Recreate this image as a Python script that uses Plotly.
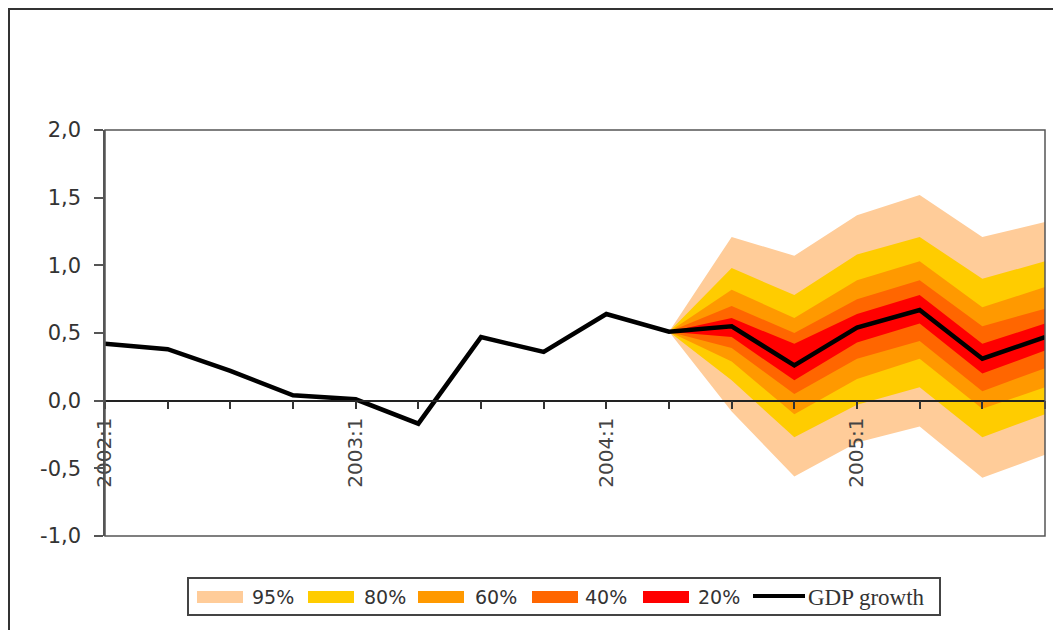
import plotly.graph_objects as go

# quarterly GDP growth, history + fan chart forecast
quarters = ['2002:1', '2002:2', '2002:3', '2002:4',
            '2003:1', '2003:2', '2003:3', '2003:4',
            '2004:1', '2004:2', '2004:3', '2004:4',
            '2005:1', '2005:2', '2005:3', '2005:4']
gdp_growth = [0.42, 0.38, 0.22, 0.04, 0.01, -0.17, 0.47, 0.36,
              0.64, 0.51, 0.55, 0.26, 0.54, 0.67, 0.31, 0.47]
tick_text = ['2002:1', '', '', '', '2003:1', '', '', '',
             '2004:1', '', '', '', '2005:1', '', '', '']
y_ticks = [-1.0, -0.5, 0.0, 0.5, 1.0, 1.5, 2.0]
y_tick_text = ['-1,0', '-0,5', '0,0', '0,5', '1,0', '1,5', '2,0']

fan_quarters = ['2004:2', '2004:3', '2004:4', '2005:1', '2005:2', '2005:3', '2005:4']
band_names = ['95%', '80%', '60%', '40%', '20%']
band_upper = [
    [0.51, 1.21, 1.07, 1.37, 1.52, 1.21, 1.32],
    [0.51, 0.98, 0.78, 1.08, 1.21, 0.90, 1.03],
    [0.51, 0.82, 0.61, 0.89, 1.03, 0.69, 0.84],
    [0.51, 0.70, 0.50, 0.75, 0.89, 0.55, 0.68],
    [0.51, 0.61, 0.42, 0.64, 0.78, 0.42, 0.57],
]
band_lower = [
    [0.51, -0.08, -0.56, -0.31, -0.19, -0.57, -0.40],
    [0.51, 0.15, -0.27, -0.03, 0.10, -0.27, -0.10],
    [0.51, 0.29, -0.10, 0.16, 0.31, -0.06, 0.10],
    [0.51, 0.39, 0.05, 0.31, 0.44, 0.07, 0.24],
    [0.51, 0.47, 0.15, 0.43, 0.57, 0.20, 0.37],
]
band_colors = ['#FFCC99', '#FFCC00', '#FF9900', '#FF6600', '#FF0000']

# page has an 8px body margin, so the figure itself starts at (8, 8)
OFF = 8
W, H = 1061 - OFF, 630 - OFF
L, T = 105 - OFF, 130 - OFF
R, B = W - (1045 - OFF), H - (536 - OFF)
PW, PH = W - L - R, H - T - B


def px_x(px):
    # page pixel -> paper x
    return (px - OFF - L) / PW


def px_y(py):
    # page pixel -> paper y
    return (H - B - (py - OFF)) / PH


fig = go.Figure()

for name, up, lo, col in zip(band_names, band_upper, band_lower, band_colors):
    fig.add_trace(go.Scatter(
        x=fan_quarters + fan_quarters[::-1], y=up + lo[::-1],
        fill='toself', fillcolor=col, mode='lines', line=dict(width=0),
        name=name, showlegend=False, hoverinfo='skip'
    ))

fig.add_trace(go.Scatter(
    x=quarters, y=gdp_growth, mode='lines', name='GDP growth',
    line=dict(color='black', width=4.5), showlegend=False
))

shapes = [
    # outer chart frame
    dict(type='rect', xref='paper', yref='paper',
         x0=px_x(9), x1=px_x(1080), y0=px_y(9), y1=px_y(660),
         line=dict(color='#333', width=2), layer='below'),
    # plot area frame
    dict(type='rect', xref='paper', yref='paper', x0=0, x1=1, y0=0, y1=1,
         line=dict(color='#555', width=1.5), layer='above'),
    # legend frame
    dict(type='rect', xref='paper', yref='paper',
         x0=px_x(188), x1=px_x(940), y0=px_y(578), y1=px_y(615),
         line=dict(color='#444', width=2), fillcolor='white'),
]
annotations = []
swatch_x = [197, 308, 418, 532, 643]
text_x = [250, 362, 473, 583, 696]
for sx, tx, name, col in zip(swatch_x, text_x, band_names, band_colors):
    shapes.append(dict(type='rect', xref='paper', yref='paper',
                       x0=px_x(sx), x1=px_x(sx + 46), y0=px_y(591), y1=px_y(603),
                       line=dict(width=0), fillcolor=col))
    annotations.append(dict(x=px_x(tx), y=px_y(597), xref='paper', yref='paper',
                            text=name, showarrow=False, xanchor='left', yanchor='middle',
                            font=dict(family='DejaVu Sans', size=19, color='#333')))
shapes.append(dict(type='line', xref='paper', yref='paper',
                   x0=px_x(753), x1=px_x(805), y0=px_y(596), y1=px_y(596),
                   line=dict(color='black', width=4)))
annotations.append(dict(x=px_x(806), y=px_y(597), xref='paper', yref='paper',
                        text='GDP growth', showarrow=False, xanchor='left', yanchor='middle',
                        font=dict(family='Liberation Serif', size=23, color='#333')))

fig.update_layout(
    width=W, height=H,
    margin=dict(l=L, r=R, t=T, b=B),
    paper_bgcolor='white', plot_bgcolor='white',
    showlegend=False,
    shapes=shapes, annotations=annotations,
    font=dict(family='DejaVu Sans', size=19, color='#333'),
)

fig.update_xaxes(
    type='category', categoryorder='array', categoryarray=quarters,
    range=[0, 15], anchor='free', position=1 / 3,
    tickmode='array', tickvals=quarters, ticktext=tick_text,
    tickangle=-90, ticks='outside', ticklen=8, tickwidth=1.5, tickcolor='#333',
    showline=True, linecolor='#222', linewidth=1.5,
    showgrid=False, zeroline=False,
    tickfont=dict(family='DejaVu Sans', size=20, color='#444'),
)
fig.update_yaxes(
    range=[-1, 2], tickmode='array', tickvals=y_ticks, ticktext=y_tick_text,
    ticks='outside', ticklen=9, tickwidth=1.5, tickcolor='#555',
    showline=True, linecolor='#555', linewidth=1.5,
    showgrid=False, zeroline=False, ticklabelstandoff=9,
    tickfont=dict(family='DejaVu Sans', size=21, color='#333'),
)

fig.write_html("out.html")
